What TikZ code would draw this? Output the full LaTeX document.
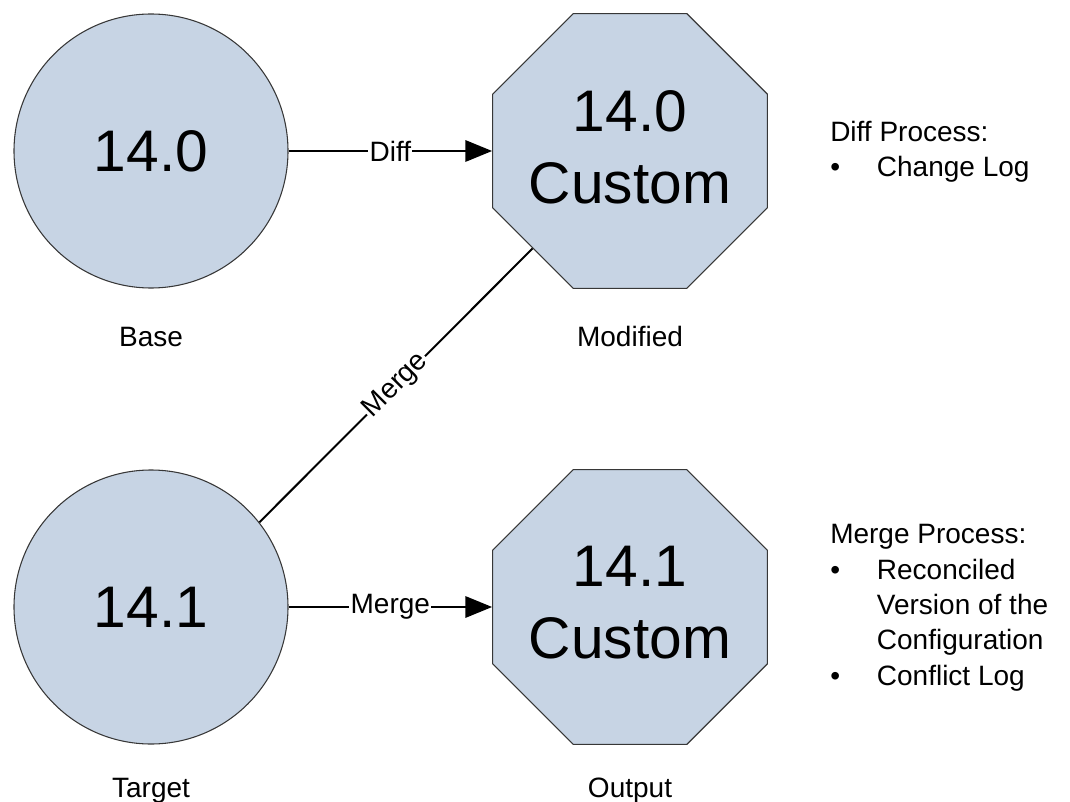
\documentclass[tikz,border=0pt]{standalone}
\usepackage{fontspec}
\setmainfont{Liberation Sans}
\usetikzlibrary{arrows.meta,shapes.geometric}

\definecolor{nodeblue}{RGB}{199,212,228}
\definecolor{edgegrey}{RGB}{55,55,55}

\begin{document}
\begin{tikzpicture}[x=0.75pt,y=-0.75pt,>={Triangle[length=20pt,width=16pt]},
  bigtext/.style={font=\fontsize{44pt}{54pt}\selectfont},
  ver/.style={circle,draw=edgegrey,fill=nodeblue,line width=0.8pt,
    minimum size=205.5pt,inner sep=0pt,bigtext},
  cust/.style={regular polygon,regular polygon sides=8,draw=edgegrey,fill=nodeblue,
    line width=0.8pt,minimum size=223pt,inner sep=0pt,
    label={[bigtext,align=center,yshift=3pt]center:#1}},
  lbl/.style={inner sep=0pt,font=\fontsize{21pt}{26.5pt}\selectfont},
  conn/.style={line width=1.5pt},
  edgelbl/.style={fill=white,inner sep=1pt,font=\fontsize{21pt}{26.5pt}\selectfont}]
  \def\bul{35pt}  % indent of the list text

  \useasboundingbox (0,0) rectangle (1070,802);

  % versions and custom builds
  \node[ver] (base)   at (151,151) {14.0};
  \node[cust={14.0\\Custom}] (modified) at (630,151) {};
  \node[ver] (target) at (151,607) {14.1};
  \node[cust={14.1\\Custom}] (output) at (630,607) {};

  % captions under the shapes
  \node[lbl,anchor=base] (baselbl)   at (151,346) {Base};
  \node[lbl,anchor=base] (modlbl)    at (630,346) {Modified};
  \node[lbl,anchor=base] (targetlbl) at (151,797) {Target};
  \node[lbl,anchor=base] (outlbl)    at (630,797) {Output};

  % connectors
  \draw[conn,->] (base) -- (modified) node[midway,edgelbl] {Diff};
  \draw[conn,->] (target) -- (output) node[midway,edgelbl] {Merge};
  \draw[conn] (target.38) -- (modified.225)
       node[midway,sloped,edgelbl] {Merge};

  % process notes (base anchor sits on the last line)
  \node[lbl,anchor=base west,align=left] (diffnote) at (830,177)
    {Diff Process:\\\makebox[\bul][l]{\textbullet}Change Log};
  \node[lbl,anchor=base west,align=left] (mergenote) at (830,685)
    {Merge Process:\\\makebox[\bul][l]{\textbullet}Reconciled\\
     \hspace*{\bul}Version of the\\\hspace*{\bul}Configuration\\
     \makebox[\bul][l]{\textbullet}Conflict Log};
\end{tikzpicture}
\end{document}
